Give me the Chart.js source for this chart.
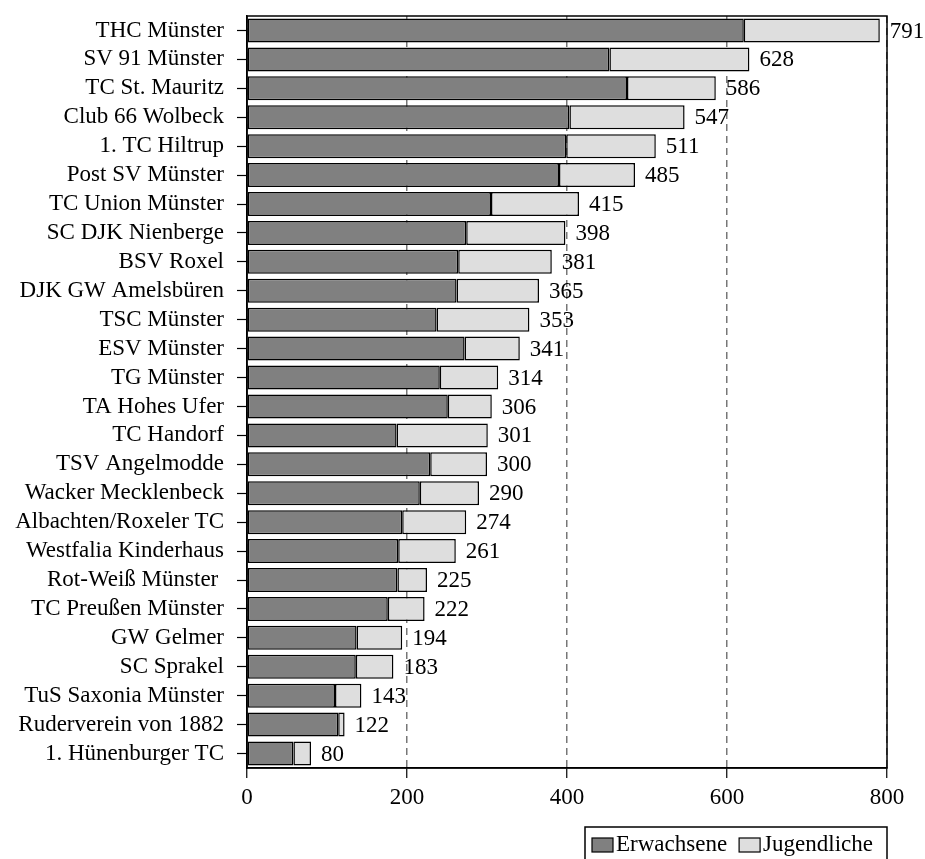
<!DOCTYPE html>
<html>
<head>
<meta charset="utf-8">
<script src="https://cdn.jsdelivr.net/npm/chart.js@4.4.1/dist/chart.umd.min.js"></script>
<style>
  html, body { margin: 0; padding: 0; background: #fff; }
  #wrap { width: 925px; height: 859px; }
</style>
</head>
<body>
<div id="wrap"><canvas id="clubChart" width="925" height="859"></canvas></div>
<script>
// Vereine (top to bottom)
var clubs = ['THC Münster', 'SV 91 Münster', 'TC St. Mauritz', 'Club 66 Wolbeck', '1. TC Hiltrup',
    'Post SV Münster', 'TC Union Münster', 'SC DJK Nienberge', 'BSV Roxel', 'DJK GW Amelsbüren',
    'TSC Münster', 'ESV Münster', 'TG Münster', 'TA Hohes Ufer', 'TC Handorf', 'TSV Angelmodde',
    'Wacker Mecklenbeck', 'Albachten/Roxeler TC', 'Westfalia Kinderhaus', 'Rot-Weiß Münster ',
    'TC Preußen Münster', 'GW Gelmer', 'SC Sprakel', 'TuS Saxonia Münster', 'Ruderverein von 1882',
    '1. Hünenburger TC'];
var adults = [621, 453, 475, 403, 399, 390, 305, 274, 264, 262, 237, 272, 241, 251, 187, 229,
    216, 194, 189, 188, 176, 137, 136, 110, 114, 58];
var youth = [170, 175, 111, 144, 112, 95, 110, 124, 117, 103, 116, 69, 73, 55, 114, 71,
    74, 80, 72, 37, 46, 57, 47, 33, 8, 22];
var xTicks = [0, 200, 400, 600, 800];

var FONT = '"Liberation Serif", "Times New Roman", serif';

// frame, totals and legend box
var extras = {
    id: 'extras',
    afterDatasetsDraw: function (chart) {
        var c = chart.ctx, a = chart.chartArea;
        var metaY = chart.getDatasetMeta(1);
        c.save();
        c.font = '23px ' + FONT;
        c.fillStyle = '#000';
        c.textBaseline = 'middle';
        metaY.data.forEach(function (bar, i) {
            var total = adults[i] + youth[i];
            var txt = String(total);
            var w = c.measureText(txt).width;
            var x = Math.min(bar.x + 10, 925 - w + 2);
            c.fillText(txt, x, bar.y + 1);
        });
        // plot frame
        c.strokeStyle = '#000';
        c.lineWidth = 1.5;
        c.strokeRect(a.left, a.top, a.right - a.left, a.bottom - a.top);
        c.restore();
    },
    afterDraw: function (chart) {
        var c = chart.ctx;
        var ds = chart.data.datasets;
        c.save();
        c.font = '23px ' + FONT;
        c.textBaseline = 'middle';
        var left = 585, top = 827, right = 887, cy = 845;
        c.strokeStyle = '#000';
        c.lineWidth = 1.5;
        c.strokeRect(left, top, right - left, 60);
        var x = 592;
        ds.forEach(function (d) {
            c.fillStyle = d.backgroundColor;
            c.fillRect(x, cy - 7, 21, 14);
            c.strokeStyle = '#000';
            c.lineWidth = 1.2;
            c.strokeRect(x, cy - 7, 21, 14);
            c.fillStyle = '#000';
            c.fillText(d.label, x + 24, cy);
            x += 24 + c.measureText(d.label).width + 12;
        });
        c.restore();
    }
};

var chart = new Chart(document.getElementById('clubChart').getContext('2d'), {
    type: 'bar',
    data: {
        labels: clubs,
        datasets: [{
            label: 'Erwachsene',
            data: adults,
            backgroundColor: '#808080',
            borderColor: '#000',
            borderWidth: 1.5,
            borderSkipped: false,
            barPercentage: 0.83,
            categoryPercentage: 1
        }, {
            label: 'Jugendliche',
            data: youth,
            backgroundColor: '#dedede',
            borderColor: '#000',
            borderWidth: 1.5,
            borderSkipped: false,
            barPercentage: 0.83,
            categoryPercentage: 1
        }]
    },
    options: {
        indexAxis: 'y',
        responsive: false,
        animation: false,
        layout: {
            padding: { top: 16, right: 38, bottom: 47, left: 0 }
        },
        plugins: {
            legend: { display: false },
            tooltip: { enabled: false }
        },
        scales: {
            x: {
                stacked: true,
                min: 0,
                max: 800,
                afterBuildTicks: function (scale) {
                    scale.ticks = xTicks.map(function (v) { return { value: v }; });
                },
                afterFit: function (scale) {
                    scale.height = 44;
                    scale.paddingLeft = 0;
                    scale.paddingRight = 0;
                },
                ticks: {
                    color: '#000',
                    font: { family: FONT, size: 23 },
                    padding: 6
                },
                grid: {
                    color: '#777',
                    lineWidth: 1.5,
                    tickColor: '#000',
                    tickLength: 10,
                    tickWidth: 1.2
                },
                border: { color: '#000', width: 1.5, dash: [7, 5] }
            },
            y: {
                stacked: true,
                afterFit: function (scale) {
                    scale.width = 247;
                    scale.paddingTop = 0;
                    scale.paddingBottom = 0;
                },
                ticks: {
                    color: '#000',
                    font: { family: FONT, size: 23 },
                    padding: 13,
                    autoSkip: false
                },
                grid: {
                    offset: false,
                    drawOnChartArea: false,
                    tickColor: '#000',
                    tickLength: 10,
                    tickWidth: 1.2
                },
                border: { color: '#000', width: 1.5 }
            }
        }
    },
    plugins: [extras]
});
</script>
</body>
</html>
